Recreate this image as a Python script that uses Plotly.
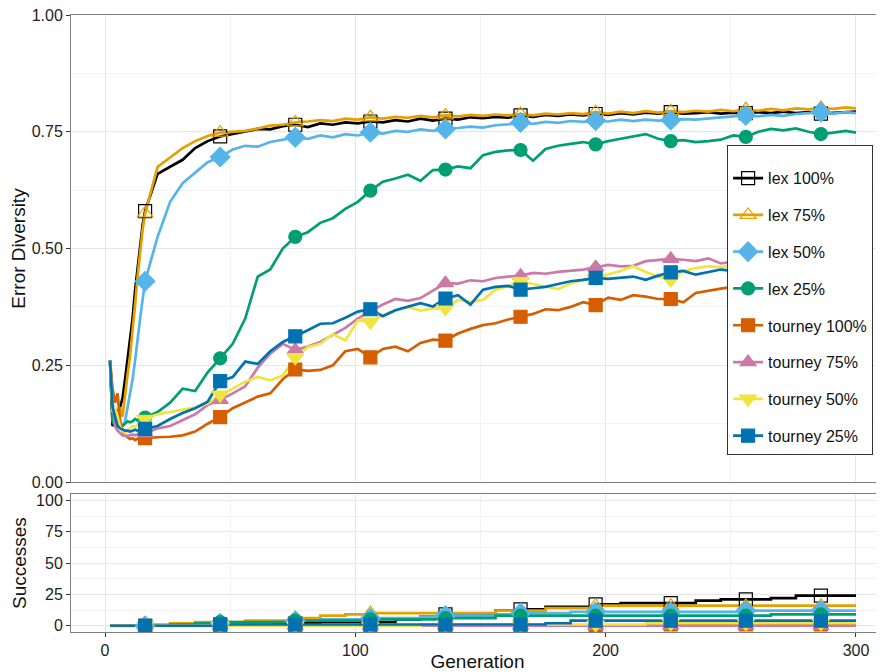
import plotly.graph_objects as go
from plotly.subplots import make_subplots

# generations sampled for the diversity curves (dense at the start)
generation = list(range(2, 17)) + list(range(21, 297, 5)) + [300]
# generations sampled for the cumulative success counts
succ_generation = [2] + list(range(16, 297, 10)) + [300]
# generations that carry a marker
marker_generation = list(range(16, 297, 30))

div_lex100 = [
    0.26, 0.12, 0.13, 0.15, 0.16, 0.18, 0.22, 0.26, 0.30, 0.35, 0.41, 0.46, 0.51, 0.55, 0.58,
    0.66, 0.675, 0.69, 0.715, 0.73, 0.74, 0.745, 0.75, 0.756, 0.755,
    0.762, 0.765, 0.76, 0.768, 0.765, 0.77, 0.768, 0.772, 0.77, 0.775,
    0.772, 0.778, 0.774, 0.778, 0.776, 0.781, 0.779, 0.782, 0.78, 0.785,
    0.782, 0.786, 0.784, 0.787, 0.785, 0.788, 0.786, 0.79, 0.787, 0.791,
    0.789, 0.792, 0.789, 0.79, 0.792, 0.789, 0.791, 0.79, 0.792, 0.79,
    0.793, 0.79, 0.792, 0.789, 0.791, 0.792, 0.793,
]
div_lex75 = [
    0.26, 0.16, 0.12, 0.14, 0.16, 0.14, 0.19, 0.23, 0.27, 0.32, 0.38, 0.44, 0.49, 0.54, 0.575,
    0.675, 0.695, 0.715, 0.73, 0.741, 0.748, 0.75, 0.752, 0.757, 0.763,
    0.765, 0.77, 0.772, 0.775, 0.773, 0.778, 0.776, 0.781, 0.778, 0.782,
    0.78, 0.784, 0.781, 0.785, 0.783, 0.786, 0.784, 0.787, 0.785, 0.788,
    0.785, 0.789, 0.787, 0.79, 0.788, 0.792, 0.789, 0.793, 0.79, 0.794,
    0.791, 0.794, 0.792, 0.795, 0.793, 0.797, 0.794, 0.798, 0.795, 0.799,
    0.796, 0.8, 0.798, 0.801, 0.799, 0.802, 0.8,
]
div_lex50 = [
    0.26, 0.17, 0.14, 0.15, 0.13, 0.12, 0.13, 0.16, 0.19, 0.22, 0.26, 0.31, 0.35, 0.39, 0.43,
    0.525, 0.6, 0.64, 0.662, 0.685, 0.696, 0.712, 0.72, 0.718, 0.728,
    0.733, 0.738, 0.735, 0.742, 0.738, 0.745, 0.742, 0.749, 0.746, 0.752,
    0.75, 0.755, 0.752, 0.756, 0.758, 0.761, 0.759, 0.764, 0.766, 0.77,
    0.767, 0.771, 0.769, 0.773, 0.771, 0.774, 0.772, 0.776, 0.773, 0.776,
    0.774, 0.775, 0.777, 0.776, 0.779, 0.781, 0.783, 0.785, 0.783, 0.786,
    0.784, 0.788, 0.79, 0.792, 0.789, 0.792, 0.79,
]
div_lex25 = [
    0.26, 0.13, 0.12, 0.12, 0.125, 0.12, 0.125, 0.13, 0.128, 0.13, 0.135, 0.132, 0.138, 0.135, 0.138,
    0.15, 0.17, 0.2, 0.195, 0.235, 0.265, 0.296, 0.35, 0.44, 0.455,
    0.5, 0.525, 0.535, 0.555, 0.565, 0.585, 0.6, 0.624, 0.643, 0.65,
    0.658, 0.645, 0.668, 0.669, 0.676, 0.672, 0.7, 0.707, 0.71, 0.711,
    0.688, 0.713, 0.72, 0.724, 0.728, 0.723, 0.73, 0.735, 0.74, 0.745,
    0.735, 0.73, 0.732, 0.728, 0.73, 0.733, 0.742, 0.739, 0.75, 0.756,
    0.753, 0.757, 0.75, 0.745, 0.748, 0.752, 0.748,
]
div_tour100 = [
    0.26, 0.2, 0.17, 0.19, 0.13, 0.11, 0.1, 0.095, 0.092, 0.094, 0.09, 0.093, 0.091, 0.095, 0.094,
    0.096, 0.097, 0.1, 0.108, 0.125, 0.139, 0.158, 0.17, 0.183, 0.19,
    0.22, 0.241, 0.238, 0.24, 0.25, 0.28, 0.285, 0.267, 0.285, 0.29,
    0.28, 0.298, 0.305, 0.303, 0.318, 0.328, 0.336, 0.34, 0.348, 0.354,
    0.36, 0.37, 0.368, 0.375, 0.385, 0.379, 0.395, 0.39, 0.4, 0.397,
    0.392, 0.392, 0.385, 0.405, 0.41, 0.414, 0.418, 0.42, 0.425, 0.428,
    0.43, 0.433, 0.435, 0.437, 0.44, 0.442, 0.445,
]
div_tour75 = [
    0.26, 0.17, 0.12, 0.11, 0.105, 0.1, 0.1, 0.098, 0.1, 0.102, 0.1, 0.103, 0.101, 0.104, 0.104,
    0.115, 0.12, 0.132, 0.145, 0.165, 0.176, 0.19, 0.205, 0.245, 0.275,
    0.296, 0.283, 0.29, 0.3, 0.315, 0.33, 0.35, 0.366, 0.38, 0.392,
    0.388, 0.394, 0.41, 0.426, 0.425, 0.432, 0.43, 0.437, 0.44, 0.442,
    0.448, 0.446, 0.45, 0.453, 0.455, 0.46, 0.465, 0.462, 0.463, 0.473,
    0.475, 0.478, 0.476, 0.473, 0.479, 0.468, 0.472, 0.475, 0.478, 0.48,
    0.482, 0.484, 0.486, 0.488, 0.49, 0.49, 0.492,
]
div_tour50 = [
    0.26, 0.15, 0.16, 0.14, 0.12, 0.11, 0.105, 0.11, 0.115, 0.12, 0.118, 0.122, 0.125, 0.13, 0.135,
    0.145, 0.15, 0.155, 0.16, 0.168, 0.187, 0.2, 0.215, 0.225, 0.218,
    0.228, 0.267, 0.289, 0.296, 0.317, 0.303, 0.346, 0.343, 0.358, 0.368,
    0.375, 0.367, 0.372, 0.372, 0.39, 0.386, 0.39, 0.412, 0.42, 0.43,
    0.424, 0.418, 0.413, 0.425, 0.433, 0.436, 0.445, 0.452, 0.462, 0.45,
    0.44, 0.433, 0.452, 0.458, 0.462, 0.46, 0.465, 0.468, 0.47, 0.472,
    0.474, 0.476, 0.478, 0.48, 0.482, 0.483, 0.485,
]
div_tour25 = [
    0.26, 0.16, 0.14, 0.12, 0.115, 0.112, 0.11, 0.11, 0.108, 0.11, 0.112, 0.11, 0.113, 0.112, 0.114,
    0.12, 0.135, 0.148, 0.158, 0.172, 0.216, 0.225, 0.258, 0.253, 0.28,
    0.3, 0.312, 0.325, 0.339, 0.34, 0.352, 0.365, 0.37, 0.355, 0.368,
    0.375, 0.383, 0.376, 0.393, 0.4, 0.38, 0.412, 0.418, 0.42, 0.412,
    0.415, 0.418, 0.424, 0.43, 0.433, 0.437, 0.435, 0.438, 0.44, 0.433,
    0.442, 0.449, 0.452, 0.444, 0.45, 0.455, 0.452, 0.456, 0.458, 0.46,
    0.462, 0.463, 0.465, 0.466, 0.468, 0.47, 0.47,
]

succ_lex100 = [0, 0, 0, 1, 1, 1, 2, 2, 3, 3, 3, 5, 7, 9, 9, 12, 13, 15, 15, 17,
               18, 18, 18, 20, 21, 21, 22, 24, 24, 24, 24]
succ_lex75 = [0, 1, 2, 3, 3, 4, 4, 6, 8, 9, 10, 10, 10, 10, 10, 12, 12, 14, 14, 16,
              16, 16, 16, 16, 16, 16, 16, 16, 16, 16, 16]
succ_lex50 = [0, 0, 1, 1, 2, 2, 3, 4, 5, 5, 6, 6, 7, 8, 8, 9, 10, 10, 11, 11,
              11, 11, 11, 11, 11, 12, 12, 12, 12, 12, 12]
succ_lex25 = [0, 0, 1, 2, 3, 3, 3, 4, 4, 4, 5, 5, 5, 6, 6, 8, 8, 8, 8, 8,
              8, 8, 8, 8, 8, 8, 9, 9, 9, 9, 9]
succ_tour100 = [0, 0, 0, 0, 0, 0, 0, 0, 0, 0, 0, 0, 0, 0, 0, 0, 0, 0, 0, 0,
                0, 0, 1, 1, 1, 1, 1, 1, 1, 1, 1]
succ_tour75 = [0, 0, 0, 0, 0, 0, 0, 0, 0, 0, 0, 0, 0, 0, 0, 0, 0, 0, 0, 0,
               0, 0, 0, 0, 0, 0, 0, 0, 0, 0, 0]
succ_tour50 = [0, 0, 0, 0, 0, 0, 0, 0, 0, 0, 0, 0, 1, 1, 1, 1, 1, 1, 1, 1,
               1, 2, 2, 2, 2, 2, 2, 2, 2, 2, 2]
succ_tour25 = [0, 0, 0, 0, 1, 1, 1, 1, 1, 1, 1, 1, 1, 1, 1, 1, 1, 2, 4, 4,
               4, 4, 4, 4, 4, 4, 4, 4, 4, 4, 4]

names = ["lex 100%", "lex 75%", "lex 50%", "lex 25%",
         "tourney 100%", "tourney 75%", "tourney 50%", "tourney 25%"]
diversity = [div_lex100, div_lex75, div_lex50, div_lex25,
             div_tour100, div_tour75, div_tour50, div_tour25]
successes = [succ_lex100, succ_lex75, succ_lex50, succ_lex25,
             succ_tour100, succ_tour75, succ_tour50, succ_tour25]
colors = ["#000000", "#E69F00", "#56B4E9", "#009E73",
          "#D55E00", "#CC79A7", "#F0E442", "#0072B2"]
symbols = ["square-open", "triangle-up-open", "diamond", "circle",
           "square", "triangle-up", "triangle-down", "square"]
sizes = [13, 14, 15, 13, 13, 14, 15, 13]

for d in diversity:
    assert len(d) == len(generation)
for s in successes:
    assert len(s) == len(succ_generation)

fig = make_subplots(rows=2, cols=1, shared_xaxes=True)

# lines first
for name, d, s, c in zip(names, diversity, successes, colors):
    fig.add_trace(go.Scatter(x=generation, y=d, mode="lines", line=dict(color=c, width=2.7),
                             showlegend=False, hoverinfo="skip"), row=1, col=1)
    fig.add_trace(go.Scatter(x=succ_generation, y=s, mode="lines", line=dict(color=c, width=2.7, shape="hv"),
                             showlegend=False, hoverinfo="skip"), row=2, col=1)

# then the markers on top of all lines
for name, d, s, c, sym, sz in zip(names, diversity, successes, colors, symbols, sizes):
    mk = dict(color=c, symbol=sym, size=sz, line=dict(width=1.2, color=c))
    dy = [d[generation.index(g)] for g in marker_generation]
    sy = [s[succ_generation.index(g)] for g in marker_generation]
    fig.add_trace(go.Scatter(x=marker_generation, y=dy, mode="markers", marker=mk,
                             showlegend=False), row=1, col=1)
    fig.add_trace(go.Scatter(x=marker_generation, y=sy, mode="markers", marker=mk,
                             showlegend=False), row=2, col=1)

# legend entries
for name, c, sym, sz in zip(names, colors, symbols, sizes):
    fig.add_trace(go.Scatter(x=[None], y=[None], mode="lines+markers", name=name, legendgroup=name,
                             line=dict(color=c, width=2.7),
                             marker=dict(color=c, symbol=sym, size=sz, line=dict(width=1.2, color=c))),
                  row=1, col=1)

axis_common = dict(
    showline=True, linecolor="#7f7f7f", linewidth=1, mirror=True, automargin=False,
    showgrid=True, gridcolor="#e6e6e6", gridwidth=1, zeroline=False,
    tickfont=dict(size=16, color="#222"), ticks="outside", ticklen=4, tickcolor="#333",
    ticklabeloverflow="allow",
)

fig.update_xaxes(range=[-13.6, 311.2], tick0=0, dtick=100,
                 minor=dict(showgrid=True, gridcolor="#f3f3f3", dtick=50, tick0=0), **axis_common)
fig.update_xaxes(ticks="", showticklabels=False, row=1, col=1)
fig.update_xaxes(title=dict(text="Generation", font=dict(size=19, color="#111"), standoff=2), row=2, col=1)

fig.update_yaxes(range=[0, 1], tick0=0, dtick=0.25, tickformat=".2f",
                 minor=dict(showgrid=True, gridcolor="#f3f3f3", dtick=0.125, tick0=0),
                 title=dict(text="Error Diversity", font=dict(size=19, color="#111"), standoff=3),
                 domain=[0.243, 1], row=1, col=1, **axis_common)
fig.update_yaxes(range=[-5, 105], tick0=0, dtick=25,
                 minor=dict(showgrid=True, gridcolor="#f3f3f3", dtick=12.5, tick0=0),
                 title=dict(text="Successes", font=dict(size=19, color="#111"), standoff=4),
                 domain=[0, 0.2233], row=2, col=1, **axis_common)

# the page body adds an 8 px offset, so the figure is 8 px smaller and its margins shifted
fig.update_layout(
    width=876, height=664,
    margin=dict(l=63, r=0, t=7, b=40),
    plot_bgcolor="white", paper_bgcolor="white",
    font=dict(family="Liberation Sans, Arial, sans-serif", size=16, color="#222"),
    legend=dict(x=0.807, y=0.79, xanchor="left", yanchor="top",
                bgcolor="white", bordercolor="#333", borderwidth=1,
                font=dict(size=16, color="#111"), tracegroupgap=13,
                traceorder="grouped",
                title=dict(text=" ", font=dict(size=12))),
)

fig.write_html("out.html")
